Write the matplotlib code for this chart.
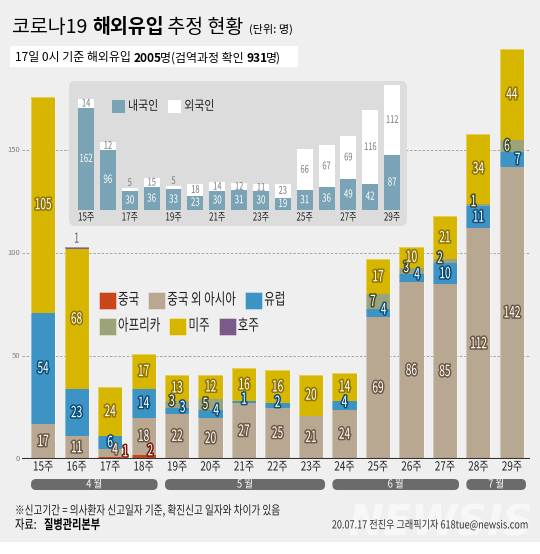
import matplotlib
matplotlib.use('Agg')
import matplotlib.pyplot as plt
from matplotlib import patheffects as pe
from matplotlib.transforms import Affine2D, IdentityTransform
from matplotlib.patches import Rectangle, FancyBboxPatch
from matplotlib.colors import to_rgba
import numpy as np

plt.rcParams['font.family'] = ['Noto Sans CJK KR', 'DejaVu Sans']

# ---------------- data ----------------
weeks = ['15주', '16주', '17주', '18주', '19주', '20주', '21주', '22주',
         '23주', '24주', '25주', '26주', '27주', '28주', '29주']
china   = [0, 0, 1, 2, 0, 0, 0, 0, 0, 0, 0, 0, 0, 0, 0]
asia    = [17, 11, 4, 18, 22, 20, 27, 25, 21, 24, 69, 86, 85, 112, 142]
europe  = [54, 23, 6, 14, 3, 4, 1, 2, 0, 4, 4, 4, 10, 11, 7]
africa  = [0, 0, 0, 0, 3, 5, 0, 0, 0, 0, 7, 3, 2, 1, 6]
america = [105, 68, 24, 17, 13, 12, 16, 16, 20, 14, 17, 10, 21, 34, 44]
oceania = [0, 1, 0, 0, 0, 0, 0, 0, 0, 0, 0, 0, 0, 0, 0]
series_names = ['중국', '중국 외 아시아', '유럽', '아프리카', '미주', '호주']

domestic = [162, 96, 30, 36, 33, 23, 30, 31, 30, 19, 31, 36, 49, 42, 87]
foreign  = [14, 12, 5, 15, 5, 18, 14, 12, 11, 23, 66, 67, 69, 116, 112]
inset_names = ['내국인', '외국인']

months = ['4 월', '5 월', '6 월', '7 월']
month_first = ['15주', '19주', '24주', '28주']
month_last = ['18주', '23주', '27주', '29주']
yticks = [0, 50, 100, 150]

# ---------------- style ----------------
W, H = 540, 554
colors = ['#c8461a', '#b8a892', '#3d93c4', '#9da378', '#d7b600', '#7b5a8a']
strokes = ['#7a1a08', '#6e5a44', '#0b4f7a', '#3f4a2c', '#8f7400', '#4a2f5a']
dom_color = '#7aa3b6'


class Squeeze(pe.AbstractPathEffect):
    """Draw text horizontally condensed (optionally with an outline)."""
    def __init__(self, sx=0.8, anchor='center', stroke=None, lw=0.0):
        super().__init__()
        self.sx, self.anchor, self.stroke, self.lw = sx, anchor, stroke, lw

    def draw_path(self, renderer, gc, tpath, affine, rgbFace=None):
        ext = tpath.get_extents()
        if self.anchor == 'left':
            cx = 0.0
        elif self.anchor == 'right':
            cx = ext.x1
        else:
            cx = (ext.x0 + ext.x1) / 2
        t = Affine2D().translate(-cx, 0).scale(self.sx, 1).translate(cx, 0) + affine
        if self.stroke is not None:
            gc0 = renderer.new_gc()
            gc0.copy_properties(gc)
            gc0.set_foreground(self.stroke)
            gc0.set_linewidth(self.lw)
            gc0.set_joinstyle('round')
            renderer.draw_path(gc0, tpath, t, to_rgba(self.stroke))
            gc0.restore()
        renderer.draw_path(gc, tpath, t, rgbFace)


fig = plt.figure(figsize=(W / 100, H / 100), dpi=100)
fig.patch.set_facecolor('white')


def fx(px):
    return px / W


def fy(py):
    return 1 - py / H


def T(target, x, y, s, size, sx=0.8, ha='center', va='center', color='black',
      weight='normal', stroke=None, lw=2.0, transform=None, zorder=5, **kw):
    if transform is None:
        transform = target.transData if target is not fig else fig.transFigure
    eff = [Squeeze(sx, anchor=ha, stroke=stroke, lw=lw)] if (sx != 1 or stroke) else None
    return target.text(x, y, s, fontsize=size, ha=ha, va=va, color=color,
                       fontweight=weight, path_effects=eff, transform=transform,
                       zorder=zorder, **kw)


renderer = fig.canvas.get_renderer()


def rich(x_px, y_px, parts, va='baseline', color='black', tighten=0.0):
    x = x_px
    for s, weight, size in parts:
        t = T(fig, fx(x), fy(y_px), s, size, sx=1, ha='left', va=va,
              weight=weight, color=color)
        x += t.get_window_extent(renderer).width
        if not s.endswith(' '):
            x -= tighten
    return x


# background
fig.add_artist(Rectangle((0, 12 / H), 1, 1 - 12 / H, transform=fig.transFigure,
                         facecolor='#efefef', edgecolor='none', zorder=-10))

# ---------------- title ----------------
rich(12, 33, [('코로나19 ', 'normal', 14), ('해외유입', 'bold', 14),
              (' 추정 현황', 'normal', 14), ('  (단위: 명)', 'normal', 8)])
fig.add_artist(Rectangle((fx(10), fy(67)), fx(288), 21 / H, transform=fig.transFigure,
                         facecolor='white', edgecolor='none', zorder=1))
rich(15, 61.5, [('17일 0시 기준 해외유입 ', 'normal', 8.6), ('2005', 'bold', 8.6),
                ('명(검역과정 확인 ', 'normal', 8.6), ('931', 'bold', 8.6),
                ('명)', 'normal', 8.6)], tighten=1.5)

# ---------------- main chart ----------------
AX_L, AX_R, AX_T, AX_B = 22, 530, 37, 459
ax = fig.add_axes([fx(AX_L), fy(AX_B), (AX_R - AX_L) / W, (AX_B - AX_T) / H])
ax.set_facecolor('none')
ax.set_xlim(-0.63, 14.54)
ax.set_ylim(0, 205)
ax.axis('off')

x = np.arange(len(weeks))
stack = [china, asia, europe, africa, america, oceania]
bottom = np.zeros(len(weeks))
for vals, c in zip(stack, colors):
    ax.bar(x, vals, bottom=bottom, width=0.72, color=c, linewidth=0, zorder=2)
    bottom += np.array(vals)
totals = bottom.copy()
ax.bar(x, totals, width=0.72, fill=False, edgecolor=(1, 1, 1, 0.35), linewidth=0.8, zorder=3)

for v in yticks[1:]:
    ax.axhline(v, color='#9a9a9a', ls=(0, (3, 2)), lw=0.6, zorder=0)
ax.axhline(0, color='#333333', lw=1.5, zorder=4)
for v in yticks:
    ax.text(-0.004, v, str(v), transform=ax.get_yaxis_transform(), ha='right',
            va='center', fontsize=5.5, color='#808080')

# segment labels
for i in range(len(weeks)):
    base = 0
    for k, vals in enumerate(stack):
        v = vals[i]
        if v == 0:
            continue
        cx, cy = i, base + v / 2
        if k == 5:  # oceania, above bar
            T(ax, i, totals[i] + 4, str(v), 10, sx=0.7, color=colors[5], zorder=6)
            base += v
            continue
        if k == 0:
            cx += 0.2 + (0.25 if asia[i] < 8 else 0)
            cy += 3
        if k == 1 and v < 8:
            cx += 0.15
            cy += 1.4
        if k == 3 and v < 10:
            cx -= 0.15
        if k == 2 and v < 10 and africa[i] > 0:
            cx += 0.17
        if k in (2, 3) and v < 5:
            cy += 1.5
        T(ax, cx, cy, str(v), 11, sx=0.66, color='white', stroke=strokes[k],
          lw=2.2, zorder=6)
        base += v

# week labels
for i, w in enumerate(weeks):
    T(ax, i, (AX_B - 467) / (AX_B - AX_T), w, 9, sx=0.8,
      transform=ax.get_xaxis_transform(), color='#222222')

# month bars
fig.canvas.draw()
idx = {w: i for i, w in enumerate(weeks)}
for m, a, b in zip(months, month_first, month_last):
    x0 = ax.transData.transform((idx[a] - 0.36, 0))[0]
    x1 = ax.transData.transform((idx[b] + 0.42, 0))[0]
    y0, y1 = H - 490, H - 479
    box = FancyBboxPatch((x0, y0), x1 - x0, y1 - y0,
                         boxstyle='round,pad=0,rounding_size=5',
                         facecolor='#6b6b6b', edgecolor='none',
                         transform=IdentityTransform(), zorder=2)
    fig.add_artist(box)
    T(fig, fx((x0 + x1) / 2), fy(484.5), m, 8, sx=0.85, color='white')

# ---------------- legend ----------------
rows = [[0, 1, 2], [3, 4, 5]]
row_y = [300, 326]
for r, row in enumerate(rows):
    xp = 99
    for k in row:
        fig.add_artist(Rectangle((fx(xp), fy(row_y[r] + 8.5)), 17 / W, 17 / H,
                                 transform=fig.transFigure, facecolor=colors[k],
                                 edgecolor=(1, 1, 1, 0.4), lw=0.6, zorder=3))
        t = T(fig, fx(xp + 19), fy(row_y[r]), series_names[k], 11.5, sx=0.72,
              ha='left', color='#222222')
        xp = xp + 19 + t.get_window_extent(renderer).width * 0.72 + 9

# ---------------- inset ----------------
IN_L, IN_R, IN_T, IN_B = 69, 407, 81, 226
fig.add_artist(FancyBboxPatch((fx(IN_L), fy(IN_B)), (IN_R - IN_L) / W, (IN_B - IN_T) / H,
                              boxstyle='round,pad=0,rounding_size=0.012',
                              transform=fig.transFigure, facecolor='#dcdcdc',
                              edgecolor='none', zorder=1, mutation_aspect=W / H))
ax2 = fig.add_axes([fx(IN_L), fy(IN_B), (IN_R - IN_L) / W, (IN_B - IN_T) / H])
ax2.set_zorder(2)
ax2.set_facecolor('none')
ax2.axis('off')
ax2.set_xlim(-0.78, 14.68)
ax2.set_ylim(-25.4, 204.8)
ax2.bar(x, domestic, width=0.73, color=dom_color, linewidth=0)
ax2.bar(x, foreign, bottom=domestic, width=0.73, color='white', linewidth=0)
for i in range(len(weeks)):
    T(ax2, i, domestic[i] / 2, str(domestic[i]), 8, sx=0.72, color='white')
    f = foreign[i]
    top = domestic[i] + f
    if f < 10:
        T(ax2, i, top + 8, str(f), 7.5, sx=0.72, color='#777777')
    else:
        T(ax2, i, domestic[i] + f / 2, str(f), 7.5, sx=0.72, color='#777777')
    if i % 2 == 0:
        T(ax2, i, -12, weeks[i], 8, sx=0.72, color='#222222')

# inset legend
lx = 112
for name, c in zip(inset_names, [dom_color, 'white']):
    fig.add_artist(Rectangle((fx(lx), fy(113)), 13 / W, 13 / H, transform=fig.transFigure,
                             facecolor=c, edgecolor='none', zorder=3))
    t = T(fig, fx(lx + 16), fy(106.5), name, 9.5, sx=0.83, ha='left', color='#222222')
    lx = lx + 16 + t.get_window_extent(renderer).width * 0.83 + 10

# ---------------- footer ----------------
T(fig, fx(15), fy(511), '※신고기간 = 의사환자 신고일자 기준, 확진신고 일자와 차이가 있음', 9,
  sx=0.77, ha='left', color='#222222')
T(fig, fx(15), fy(529), '자료:', 9.5, sx=0.77, ha='left', va='baseline')
T(fig, fx(44), fy(529), '질병관리본부', 9.5, sx=0.77, ha='left', va='baseline', weight='bold')
fig.text(fx(440), fy(524), 'NEWSIS', fontsize=30, fontstyle='italic', fontweight='bold',
         family='DejaVu Sans', color='white', alpha=0.55, ha='center', va='center', zorder=4)
T(fig, fx(529), fy(525), '20.07.17 전진우 그래픽기자 618tue@newsis.com', 8, sx=0.82,
  ha='right', color='#333333', zorder=5)

fig.savefig('out.png', dpi=100, facecolor=fig.get_facecolor())
